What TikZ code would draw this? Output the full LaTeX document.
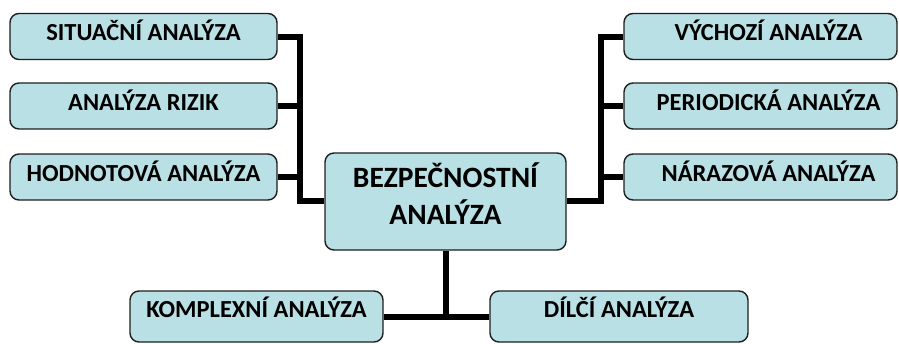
\documentclass[tikz,border=0pt]{standalone}
\usepackage{fontspec}
\setmainfont{Carlito}
\definecolor{boxfill}{RGB}{185,224,228}
\definecolor{boxline}{RGB}{30,30,30}
\begin{document}
\begin{tikzpicture}[x=1pt,y=-1pt,
  box/.style={draw=boxline, line width=1.4pt, fill=boxfill, rounded corners=9pt,
    inner sep=0pt, font=\bfseries\fontsize{24.5}{29}\selectfont},
  sidebox/.style={box, minimum height=46pt, text height=17pt, text depth=8.2pt},
  rightbox/.style={sidebox, minimum width=273pt, execute at begin node={\hspace*{16pt}}},
  leftbox/.style={sidebox, minimum width=267pt},
  lowbox/.style={box, minimum height=51pt, text height=17pt, text depth=14.2pt},
  mainbox/.style={box, minimum width=241pt, minimum height=97pt, align=center,
    font=\bfseries\fontsize{29.5}{36.5}\selectfont},
  link/.style={line width=6pt, line join=miter}
]
\useasboundingbox (0,0) rectangle (899,343);

% central node (the strut lifts the two lines a little above centre)
\node[mainbox] (ctr) at (445.5,201.5) {BEZPEČNOSTNÍ\\ANALÝZA\rule[-16pt]{0pt}{16pt}};

% left column
\node[leftbox] (sit) at (143.5,36.5) {SITUAČNÍ ANALÝZA};
\node[leftbox] (riz) at (143.5,106) {ANALÝZA RIZIK};
\node[leftbox] (hod) at (143.5,177) {HODNOTOVÁ ANALÝZA};

% right column
\node[rightbox] (vych) at (760.5,36.5) {VÝCHOZÍ ANALÝZA};
\node[rightbox] (per) at (760.5,106) {PERIODICKÁ ANALÝZA};
\node[rightbox] (nar) at (760.5,177) {NÁRAZOVÁ ANALÝZA};

% bottom row
\node[lowbox, minimum width=253pt] (komp) at (256.5,316.5) {KOMPLEXNÍ ANALÝZA};
\node[lowbox, minimum width=258pt] (dil) at (619,316.5) {DÍLČÍ ANALÝZA};

% bus bends
\coordinate (lb) at (300,201);
\coordinate (rb) at (601,201);

% left bus
\draw[link] (sit.east) -| (lb) -- (lb -| ctr.west);
\draw[link] (riz.east) -- (riz.east -| lb);
\draw[link] (hod.east) -- (hod.east -| lb);

% right bus
\draw[link] (vych.west) -| (rb) -- (rb -| ctr.east);
\draw[link] (per.west) -- (per.west -| rb);
\draw[link] (nar.west) -- (nar.west -| rb);

% bottom branch
\draw[link] (ctr.south) -- (ctr.south |- komp.east);
\draw[link] (komp.east) -- (dil.west);
\end{tikzpicture}
\end{document}
